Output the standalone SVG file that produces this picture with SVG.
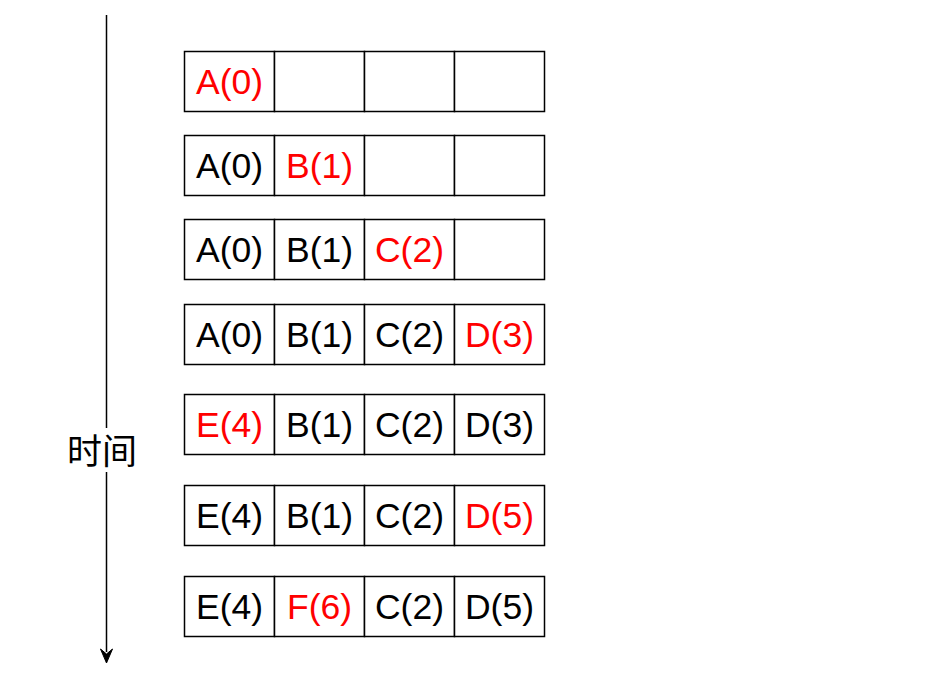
<svg xmlns="http://www.w3.org/2000/svg" width="926" height="678" viewBox="0 0 926 678">
<defs>
<style>
.c{fill:#fff;stroke:#000;stroke-width:1.5}
.t{font-family:"Liberation Sans",Arial,sans-serif;font-size:35.5px;text-anchor:middle;fill:#000}
.r{fill:#ff0000}
.lbl{font-family:"Noto Sans CJK SC",sans-serif;font-size:35px;text-anchor:middle;fill:#000}
</style>
</defs>
<g id="connectors">
<line x1="106.5" y1="15" x2="106.5" y2="652" stroke="#000" stroke-width="1.5"/>
<path d="M100.5,649 L106.5,654 L112.5,649 L106.5,663 Z" fill="#000" stroke="#000" stroke-width="1"/>
</g>
<g id="time-label">
<rect x="66" y="428" width="72" height="44" fill="#fff"/>
<text class="lbl" x="102" y="464">时间</text>
</g>
<g id="row1">
<rect class="c" x="184.5" y="51.5" width="90" height="60"/><rect class="c" x="274.5" y="51.5" width="90" height="60"/><rect class="c" x="364.5" y="51.5" width="90" height="60"/><rect class="c" x="454.5" y="51.5" width="90" height="60"/>
<text class="t r" x="229.5" y="94">A(0)</text>
</g>
<g id="row2">
<rect class="c" x="184.5" y="135.5" width="90" height="60"/><rect class="c" x="274.5" y="135.5" width="90" height="60"/><rect class="c" x="364.5" y="135.5" width="90" height="60"/><rect class="c" x="454.5" y="135.5" width="90" height="60"/>
<text class="t" x="229.5" y="178">A(0)</text><text class="t r" x="319.5" y="178">B(1)</text>
</g>
<g id="row3">
<rect class="c" x="184.5" y="219.5" width="90" height="60"/><rect class="c" x="274.5" y="219.5" width="90" height="60"/><rect class="c" x="364.5" y="219.5" width="90" height="60"/><rect class="c" x="454.5" y="219.5" width="90" height="60"/>
<text class="t" x="229.5" y="262">A(0)</text><text class="t" x="319.5" y="262">B(1)</text><text class="t r" x="409.5" y="262">C(2)</text>
</g>
<g id="row4">
<rect class="c" x="184.5" y="304.5" width="90" height="60"/><rect class="c" x="274.5" y="304.5" width="90" height="60"/><rect class="c" x="364.5" y="304.5" width="90" height="60"/><rect class="c" x="454.5" y="304.5" width="90" height="60"/>
<text class="t" x="229.5" y="347">A(0)</text><text class="t" x="319.5" y="347">B(1)</text><text class="t" x="409.5" y="347">C(2)</text><text class="t r" x="499.5" y="347">D(3)</text>
</g>
<g id="row5">
<rect class="c" x="184.5" y="394.5" width="90" height="60"/><rect class="c" x="274.5" y="394.5" width="90" height="60"/><rect class="c" x="364.5" y="394.5" width="90" height="60"/><rect class="c" x="454.5" y="394.5" width="90" height="60"/>
<text class="t r" x="229.5" y="437">E(4)</text><text class="t" x="319.5" y="437">B(1)</text><text class="t" x="409.5" y="437">C(2)</text><text class="t" x="499.5" y="437">D(3)</text>
</g>
<g id="row6">
<rect class="c" x="184.5" y="485.5" width="90" height="60"/><rect class="c" x="274.5" y="485.5" width="90" height="60"/><rect class="c" x="364.5" y="485.5" width="90" height="60"/><rect class="c" x="454.5" y="485.5" width="90" height="60"/>
<text class="t" x="229.5" y="528">E(4)</text><text class="t" x="319.5" y="528">B(1)</text><text class="t" x="409.5" y="528">C(2)</text><text class="t r" x="499.5" y="528">D(5)</text>
</g>
<g id="row7">
<rect class="c" x="184.5" y="576.5" width="90" height="60"/><rect class="c" x="274.5" y="576.5" width="90" height="60"/><rect class="c" x="364.5" y="576.5" width="90" height="60"/><rect class="c" x="454.5" y="576.5" width="90" height="60"/>
<text class="t" x="229.5" y="619">E(4)</text><text class="t r" x="319.5" y="619">F(6)</text><text class="t" x="409.5" y="619">C(2)</text><text class="t" x="499.5" y="619">D(5)</text>
</g>
</svg>
